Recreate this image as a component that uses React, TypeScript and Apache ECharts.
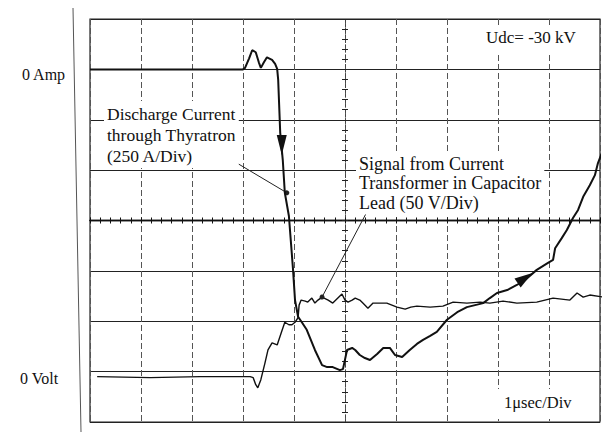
import React, { useEffect, useRef } from "react";
import * as echarts from "echarts";

// time in divisions (1 µs/div) relative to screen centre, amplitude in divisions
const curT = [-5.0, -2.0, -1.96, -1.88, -1.82, -1.75, -1.69, -1.65, -1.59, -1.53, -1.43, -1.37, -1.33, -1.31, -1.27, -1.22, -1.18, -1.1, -1.02, -0.98, -0.92, -0.84, -0.75, -0.59, -0.45, -0.35, -0.24, -0.1, -0.04, 0.04, 0.14, 0.2, 0.29, 0.39, 0.49, 0.63, 0.75, 0.88, 0.98, 1.12, 1.27, 1.41, 1.53, 1.67, 1.8, 2.0, 2.2, 2.39, 2.55, 2.71, 2.84, 2.98, 3.18, 3.37, 3.53, 3.76, 3.98, 4.08, 4.12, 4.25, 4.35, 4.47, 4.57, 4.67, 4.8, 4.9, 4.96, 5.06, 5.2];
const curY = [3.0, 3.0, 3.03, 3.22, 3.38, 3.34, 3.14, 3.03, 3.14, 3.24, 3.19, 3.11, 3.01, 2.79, 1.74, 1.2, 0.55, 0.09, -0.96, -1.58, -1.91, -2.03, -2.17, -2.57, -2.87, -2.91, -2.91, -2.97, -2.95, -2.57, -2.53, -2.57, -2.67, -2.73, -2.77, -2.65, -2.53, -2.53, -2.67, -2.71, -2.57, -2.45, -2.37, -2.29, -2.21, -1.97, -1.82, -1.72, -1.68, -1.64, -1.54, -1.44, -1.38, -1.28, -1.18, -0.98, -0.84, -0.78, -0.55, -0.35, -0.19, 0.05, 0.21, 0.47, 0.7, 0.9, 1.14, 1.4, 1.66];

const sigT = [-4.86, -3.82, -2.84, -1.86, -1.8, -1.75, -1.71, -1.65, -1.57, -1.51, -1.43, -1.33, -1.25, -1.18, -1.1, -1.04, -0.98, -0.92, -0.9, -0.86, -0.78, -0.73, -0.65, -0.59, -0.53, -0.45, -0.33, -0.24, -0.14, -0.06, 0.0, 0.06, 0.14, 0.2, 0.29, 0.35, 0.45, 0.55, 0.69, 0.82, 0.92, 1.02, 1.18, 1.29, 1.41, 1.67, 1.92, 2.12, 2.39, 2.65, 2.84, 3.1, 3.37, 3.76, 4.08, 4.41, 4.55, 4.67, 4.8, 5.06, 5.2];
const sigY = [-3.1, -3.12, -3.1, -3.1, -3.12, -3.26, -3.32, -3.16, -2.83, -2.57, -2.43, -2.47, -2.23, -2.02, -2.07, -2.07, -2.02, -1.93, -1.68, -1.58, -1.6, -1.62, -1.54, -1.64, -1.58, -1.52, -1.58, -1.64, -1.54, -1.46, -1.58, -1.62, -1.58, -1.54, -1.58, -1.64, -1.74, -1.64, -1.64, -1.64, -1.68, -1.72, -1.76, -1.72, -1.7, -1.72, -1.7, -1.62, -1.64, -1.62, -1.64, -1.6, -1.64, -1.62, -1.54, -1.58, -1.44, -1.52, -1.48, -1.52, -1.54];

// direction arrows on the current trace
const arrowT = [-1.24, 3.53];
const arrowY = [1.5, -1.14];
const arrowRot = [180, -56];

// annotation pointer lines: [fromT, fromY, toT, toY]
const currentPointer = [-2.55, 1.4, -1.14, 0.55];
const signalPointer = [0.45, 0.21, -0.45, -1.52];

const SERIF = "Liberation Serif";

export default function App() {
  const ref = useRef<HTMLDivElement>(null);
  useEffect(() => {
    document.body.style.margin = "0";
    const chart = echarts.init(ref.current!, undefined, { renderer: "svg" });
    const cur = curT.map((t, i) => [t, curY[i]]);
    const sig = sigT.map((t, i) => [t, sigY[i]]);
    const text = (t: string, x: number, y: number, size: number, lh: number, bg: boolean, pad: number[] = [0, 0, 0, 0]) => ({
      type: "text",
      x,
      y,
      z: 100,
      style: {
        text: t,
        fontFamily: SERIF,
        fontSize: size,
        fill: "#111",
        lineHeight: lh,
        verticalAlign: "top",
        align: "left",
        backgroundColor: bg ? "#fff" : undefined,
        padding: pad,
      },
    });
    const axisCommon = {
      type: "value",
      min: -5,
      max: 5,
      interval: 1,
      axisLabel: { show: false },
    };
    chart.setOption({
      animation: false,
      backgroundColor: "#fff",
      grid: { left: 90, top: 19, width: 510, height: 403, show: true, borderColor: "#222", borderWidth: 1.2 },
      xAxis: [
        {
          ...axisCommon,
          position: "bottom",
          axisLine: { onZero: true, lineStyle: { color: "#111", width: 1.4 } },
          axisTick: { show: true, length: 3, lineStyle: { color: "#111" } },
          minorTick: { show: true, splitNumber: 5, length: 3, lineStyle: { color: "#111" } },
          splitLine: { show: true, lineStyle: { color: "#555", width: 1, type: [6, 3] } },
        },
        {
          ...axisCommon,
          position: "top",
          axisLine: { onZero: true, lineStyle: { color: "#111", width: 1.4 } },
          axisTick: { show: true, length: 3, lineStyle: { color: "#111" } },
          minorTick: { show: true, splitNumber: 5, length: 3, lineStyle: { color: "#111" } },
          splitLine: { show: false },
        },
      ],
      yAxis: [
        {
          type: "value",
          min: -4,
          max: 4,
          interval: 1,
          position: "left",
          axisLabel: { show: false },
          axisLine: { onZero: true, lineStyle: { color: "#444", width: 1, type: [2, 3] } },
          axisTick: { show: true, length: 3, lineStyle: { color: "#222" } },
          minorTick: { show: true, splitNumber: 5, length: 3, lineStyle: { color: "#222" } },
          splitLine: { show: true, lineStyle: { color: "#222", width: 1.1 } },
        },
        {
          type: "value",
          min: -4,
          max: 4,
          interval: 1,
          position: "right",
          axisLabel: { show: false },
          axisLine: { onZero: true, lineStyle: { color: "#444", width: 1, type: [2, 3] } },
          axisTick: { show: true, length: 3, lineStyle: { color: "#222" } },
          minorTick: { show: true, splitNumber: 5, length: 3, lineStyle: { color: "#222" } },
          splitLine: { show: false },
        },
      ],
      series: [
        {
          name: "Discharge Current",
          type: "line",
          xAxisIndex: 0,
          yAxisIndex: 0,
          data: cur,
          showSymbol: false,
          clip: false,
          lineStyle: { color: "#111", width: 2 },
          z: 5,
          markPoint: {
            silent: true,
            data: arrowT.map((t, i) => ({
              coord: [t, arrowY[i]],
              symbol: "triangle",
              symbolSize: i === 0 ? [10, 20] : [11, 18],
              symbolRotate: arrowRot[i],
              itemStyle: { color: "#111" },
              label: { show: false },
            })),
          },
          markLine: {
            silent: true,
            symbol: ["none", "circle"],
            symbolSize: 5,
            label: { show: false },
            lineStyle: { color: "#222", width: 1, type: "solid" },
            data: [
              [
                { coord: [currentPointer[0], currentPointer[1]] },
                { coord: [currentPointer[2], currentPointer[3]] },
              ],
              [
                { coord: [signalPointer[0], signalPointer[1]] },
                { coord: [signalPointer[2], signalPointer[3]] },
              ],
            ],
          },
        },
        {
          name: "Signal from Current Transformer",
          type: "line",
          xAxisIndex: 0,
          yAxisIndex: 0,
          data: sig,
          showSymbol: false,
          clip: false,
          lineStyle: { color: "#111", width: 1.4 },
          z: 4,
        },
      ],
      graphic: [
        {
          type: "line",
          z: 100,
          shape: { x1: 73, y1: 8, x2: 81, y2: 432 },
          style: { stroke: "#555", lineWidth: 1 },
        },
        text("0 Amp", 22, 65, 16, 18, false),
        text("0 Volt", 20, 369, 16, 18, false),
        text("Discharge Current\nthrough Thyratron\n(250 A/Div)", 104, 101, 17.5, 21, true, [2, 3, 2, 3]),
        text("Signal from Current\nTransformer in Capacitor\nLead (50 V/Div)", 356, 152, 18, 19.5, true, [2, 3, 2, 3]),
        text("Udc= -30 kV", 480, 26, 17, 18, true, [2, 6, 8, 6]),
        text("1μsec/Div", 498, 389, 16.5, 18, true, [4, 6, 8, 6]),
      ],
    });
    return () => chart.dispose();
  }, []);
  return <div ref={ref} style={{ width: 610, height: 432 }} />;
}
